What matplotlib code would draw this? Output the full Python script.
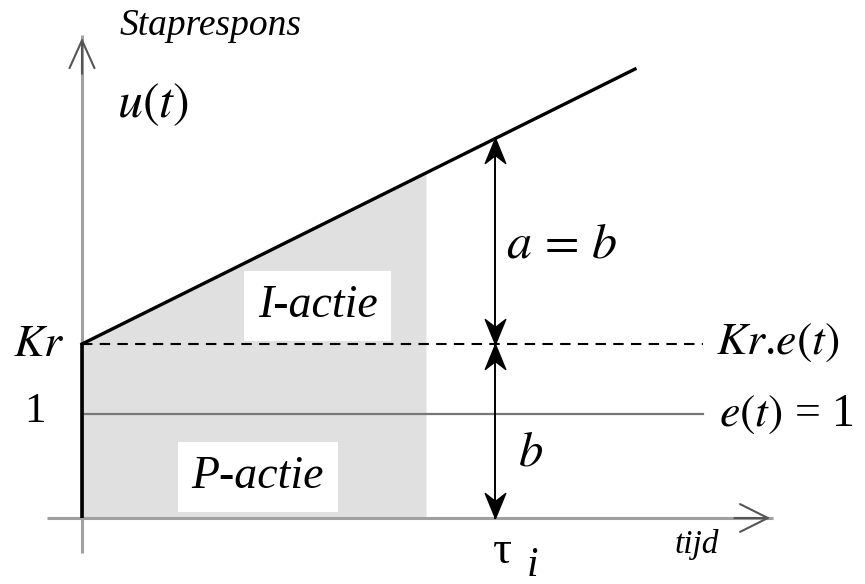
import numpy as np
import matplotlib
matplotlib.use("Agg")
import matplotlib.pyplot as plt
from matplotlib.path import Path

plt.rcParams['mathtext.fontset'] = 'stix'
plt.rcParams['font.family'] = ['Liberation Serif', 'DejaVu Serif']

# values (t in units of tau_i, u in units of e(t))
tau_i = 1.0
Kr = 1.673
e_level = 1.0
t_ramp = [0.0, 1.339]
u_ramp = [Kr, 4.317]
t_shade = [0.0, 0.833]
u_shade = [Kr, 3.32]
u_at_tau = 3.65
t_ref_end = 1.504
t_axis = [-0.085, 1.673]
u_axis = [-0.337, 4.644]

fig = plt.figure(figsize=(8.65, 5.84), dpi=100)
ax = fig.add_axes([0, 0, 1, 1])
ax.set_xlim(-82 / 413, 783 / 413)
ax.set_ylim(-66 / 104, 518 / 104)
ax.axis('off')

axis_col = '#a0a0a0'

# shaded area under the response up to the shade end
ax.fill_between(t_shade, 0, u_shade, color='#e0e0e0', lw=0, zorder=1)

# axes with open arrow heads
ax.plot(t_axis, [0, 0], color=axis_col, lw=2.2, zorder=2, solid_capstyle='butt')
ax.plot([0, 0], u_axis, color=axis_col, lw=2.2, zorder=2, solid_capstyle='butt')
ax.annotate('', xy=(t_axis[1], 0), xytext=(t_axis[1] - 0.1, 0),
            arrowprops=dict(arrowstyle='->,head_length=1.0,head_width=0.5',
                            color='#555555', lw=1.5, mutation_scale=20))
ax.annotate('', xy=(0, u_axis[1]), xytext=(0, u_axis[1] - 0.4),
            arrowprops=dict(arrowstyle='->,head_length=1.0,head_width=0.45',
                            color='#555555', lw=1.5, mutation_scale=20))

# reference levels
ax.plot([0, t_ref_end], [e_level, e_level], color='#777777', lw=1.6, zorder=3)
ax.plot([0, t_ref_end], [Kr, Kr], color='black', lw=1.5, ls=(0, (5, 3.5)), zorder=3)

# step + ramp response
ax.plot([0, 0], [0, Kr], color='black', lw=2.6, zorder=4, solid_capstyle='butt')
ax.plot(t_ramp, u_ramp, color='black', lw=2.4, zorder=4)

# double arrows at tau_i
ax.plot([tau_i, tau_i], [0, u_at_tau], color='black', lw=1.4, zorder=5)
head_up = Path([(0, 0), (-0.45, -1.1), (0, -0.75), (0.45, -1.1), (0, 0)],
               [Path.MOVETO, Path.LINETO, Path.LINETO, Path.LINETO, Path.CLOSEPOLY])
head_dn = Path([(0, 0), (-0.45, 1.1), (0, 0.75), (0.45, 1.1), (0, 0)],
               [Path.MOVETO, Path.LINETO, Path.LINETO, Path.LINETO, Path.CLOSEPOLY])
ax.plot([tau_i, tau_i], [u_at_tau, Kr], ls='none', marker=head_up, ms=36,
        color='black', zorder=6)
ax.plot([tau_i, tau_i], [Kr, 0.0], ls='none', marker=head_dn, ms=36,
        color='black', zorder=6)

# labels
box = dict(boxstyle='square,pad=0.3', fc='white', ec='none')
ax.text(0.312, 4.73, 'Staprespons', style='italic', fontsize=27, ha='center', va='center')
ax.text(0.172, 3.97, r'$u(t)$', fontsize=36, ha='center', va='center')
ax.text(-0.104, 1.663, r'$Kr$', fontsize=33, ha='center', va='center')
ax.text(-0.114, 1.02, '1', fontsize=31, ha='center', va='center')
ax.text(0.571, 2.04, 'I-actie', style='italic', fontsize=33, ha='center', va='center',
        bbox=box, zorder=7)
ax.text(0.426, 0.394, 'P-actie', style='italic', fontsize=33, ha='center', va='center',
        bbox=box, zorder=7)
ax.text(1.162, 2.625, r'$a\,=\,b$', fontsize=36, ha='center', va='center')
ax.text(1.085, 0.625, r'$b$', fontsize=35, ha='center', va='center')
ax.text(1.536, 1.683, r'$Kr$.$e(t)$', fontsize=33, ha='left', va='center')
ax.text(1.543, 0.99, r'$e(t)$ = 1', fontsize=33, ha='left', va='center')
ax.text(1.017, -0.327, 'τ', fontsize=34, ha='center', va='center')
ax.text(1.09, -0.46, 'i', style='italic', fontsize=30, ha='center', va='center')
ax.text(1.489, -0.25, 'tijd', style='italic', fontsize=24, ha='center', va='center')

fig.savefig('out.png', dpi=100)
